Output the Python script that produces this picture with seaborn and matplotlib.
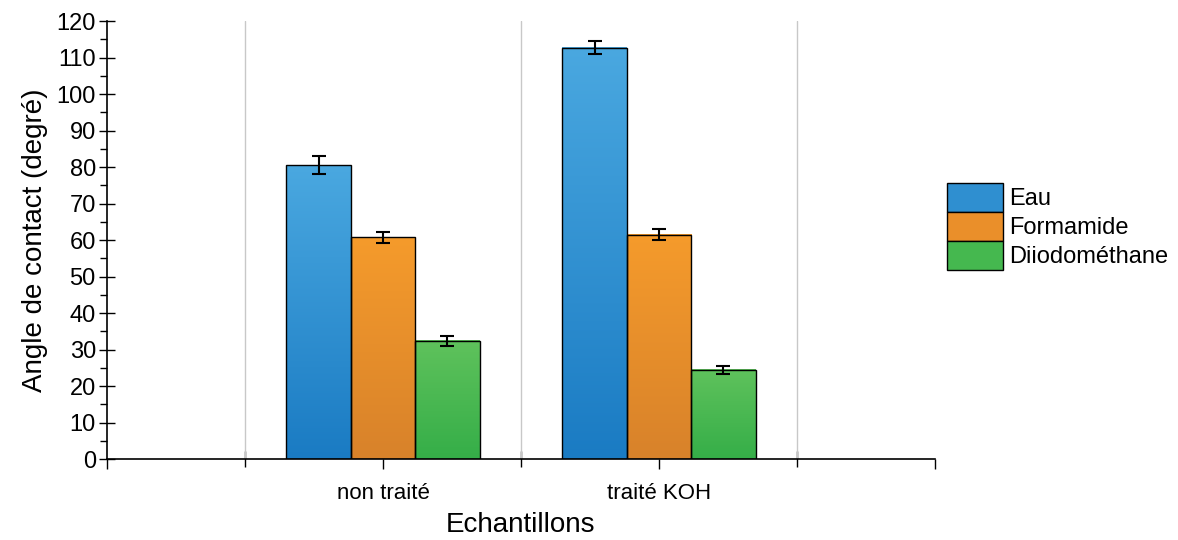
import numpy as np
import pandas as pd
import seaborn as sns
import matplotlib.pyplot as plt
from matplotlib.colors import LinearSegmentedColormap
from matplotlib.patches import Patch
from matplotlib.ticker import MultipleLocator, FixedLocator

samples = ["non traité", "traité KOH"]
liquids = ["Eau", "Formamide", "Diiodométhane"]
eau = [80.5, 112.7]
formamide = [60.7, 61.5]
diiodo = [32.4, 24.4]
eau_err = [2.4, 1.8]
formamide_err = [1.5, 1.6]
diiodo_err = [1.4, 1.2]

# top / bottom colours of the vertical gradient in each bar
top_colors = ["#4aa8e0", "#f59b2c", "#5fc25c"]
bottom_colors = ["#1a7bc3", "#d8822a", "#35ae48"]
mid_colors = ["#2f8fd0", "#ea8f2a", "#45b84f"]

df = pd.DataFrame({
    "Echantillons": samples * 3,
    "Liquide": [l for l in liquids for _ in samples],
    "Angle": eau + formamide + diiodo,
})
errors = [eau_err, formamide_err, diiodo_err]

sns.set_style("white")
plt.rcParams["font.family"] = ["Liberation Sans", "DejaVu Sans"]
plt.rcParams["text.color"] = "black"
plt.rcParams["axes.labelcolor"] = "black"
plt.rcParams["xtick.color"] = "black"
plt.rcParams["ytick.color"] = "black"

fig = plt.figure(figsize=(11.78, 5.4), dpi=100)
ax = fig.add_axes([0.0908, 0.15, 0.7029, 0.811])

sns.barplot(data=df, x="Echantillons", y="Angle", hue="Liquide",
            order=samples, hue_order=liquids, palette=mid_colors,
            width=0.7, edgecolor="black", linewidth=1, legend=False, ax=ax)

grad = np.linspace(0, 1, 256).reshape(-1, 1)
bar_conts = list(ax.containers)
for i, cont in enumerate(bar_conts):
    cmap = LinearSegmentedColormap.from_list("g%d" % i, [bottom_colors[i], top_colors[i]])
    for j, bar in enumerate(cont):
        x0 = bar.get_x()
        w = bar.get_width()
        h = bar.get_height()
        bar.set_facecolor("none")
        bar.set_zorder(3)
        ax.imshow(grad, extent=[x0, x0 + w, 0, h], origin="lower", cmap=cmap,
                  aspect="auto", zorder=2.5)
        ax.errorbar(x0 + w / 2, h, yerr=errors[i][j], fmt="none", ecolor="black",
                    elinewidth=1.5, capsize=5, capthick=1.5, zorder=4)

ax.set_xlim(-1, 2)
ax.set_ylim(0, 120)
ax.yaxis.set_major_locator(MultipleLocator(10))
ax.yaxis.set_minor_locator(MultipleLocator(5))
ax.set_xticks([-1, 0, 1, 2], ["", "non traité", "traité KOH", ""])
ax.xaxis.set_minor_locator(FixedLocator([-0.5, 0.5, 1.5]))

for gx in [-0.5, 0.5, 1.5]:
    ax.axvline(gx, color="#c8c8c8", linewidth=1, zorder=1)

ax.tick_params(axis="y", which="major", direction="inout", length=12, width=1,
               labelsize=17, left=True, pad=2)
ax.tick_params(axis="y", which="minor", direction="out", length=5, width=1, left=True)
ax.tick_params(axis="x", which="major", direction="out", length=7, width=1,
               labelsize=16, bottom=True, pad=10)
ax.tick_params(axis="x", which="minor", direction="inout", length=12, width=1, bottom=True)

for s in ["top", "right"]:
    ax.spines[s].set_visible(False)
for s in ["left", "bottom"]:
    ax.spines[s].set_color("black")
    ax.spines[s].set_linewidth(1.2)

ax.set_xlabel("Echantillons", fontsize=20, labelpad=6)
ax.set_ylabel("Angle de contact (degré)", fontsize=20, labelpad=6)

handles = [Patch(facecolor=c, edgecolor="black", linewidth=1) for c in mid_colors]
ax.legend(handles, liquids, loc="upper left", bbox_to_anchor=(1.015, 0.63),
          frameon=False, fontsize=17, handlelength=2.35, handleheight=1.5,
          labelspacing=0.0, handletextpad=0.25, borderaxespad=0, borderpad=0)

fig.savefig("out.png", dpi=100)
